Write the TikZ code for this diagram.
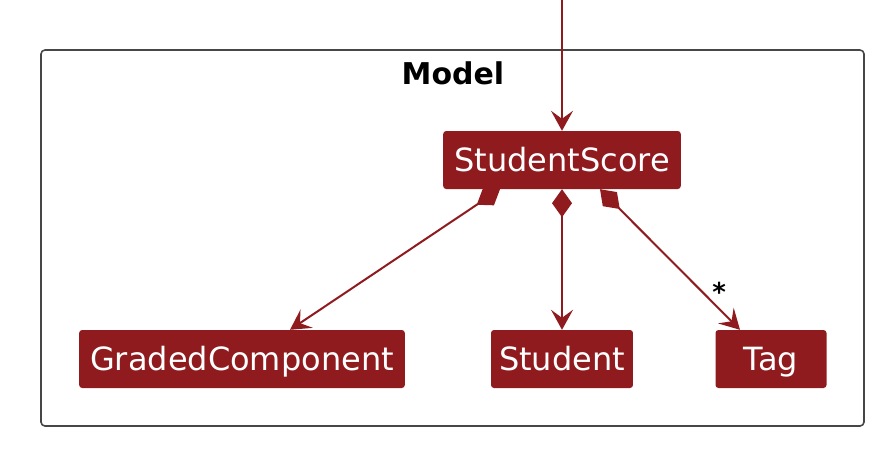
\documentclass[tikz,border=0pt]{standalone}
\usepackage{fontspec}
\setmainfont{DejaVu Sans}
\usetikzlibrary{arrows.meta}
\definecolor{umlred}{RGB}{143,27,30}
\definecolor{framegray}{RGB}{70,70,70}
\tikzset{
  cls/.style={fill=umlred, text=white, rounded corners=3pt, inner xsep=11pt,
    minimum height=58pt, text height=25pt, text depth=2pt, font=\fontsize{32}{36}\selectfont},
  assoc/.style={draw=umlred, line width=2pt,
    -{Stealth[length=20pt, width=22pt, inset=8pt]}},
  comp/.style={assoc, {Diamond[length=28pt, width=20pt]}-{Stealth[length=20pt, width=22pt, inset=8pt]}}
}
\begin{document}
\begin{tikzpicture}[x=1pt,y=-1pt, line join=round]
			\useasboundingbox (0,0) rectangle (892,464);
			% Rahmen
			\draw[framegray, line width=1.6pt, rounded corners=4pt] (41,50) rectangle (864,426);
			\node[font=\bfseries\fontsize{30}{34}\selectfont] (title) at (453,73) {Model};
			\node[cls] (score) at (562,160) {StudentScore};
			\node[cls] (graded) at (242,359) {GradedComponent};
			\node[cls, inner xsep=8pt] (student) at (562,359) {Student};
			\node[cls, minimum width=111pt] (tag) at (771,359) {Tag};
			\coordinate (top) at (562,0);
			\draw[assoc] (top) -- (score.north);
			\draw[comp] ([xshift=-62pt]score.south) -- ([xshift=48pt]graded.north);
			\draw[comp] (score.south) -- (student.north);
			\draw[comp] ([xshift=38pt]score.south) -- ([xshift=-31pt]tag.north)
				node[pos=0.8, above right=-4pt, font=\bfseries\fontsize{26}{28}\selectfont, text=black] (mult) {*};
		\end{tikzpicture}
\end{document}
